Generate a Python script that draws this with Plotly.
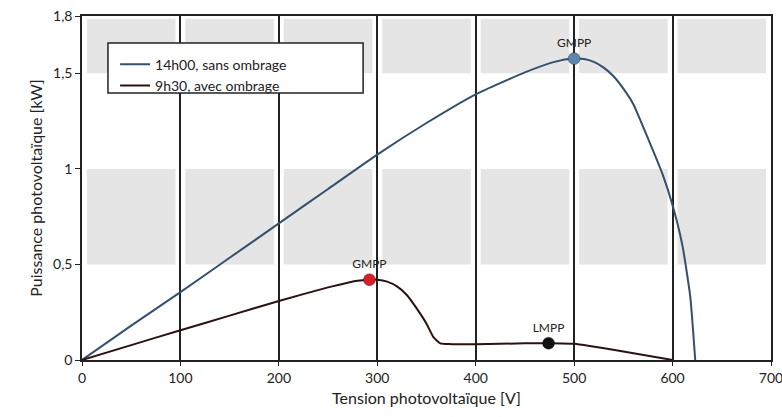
import plotly.graph_objects as go

# ---- data ----
v_sun = [0, 50, 100, 150, 200, 250, 300, 350, 400, 450, 480, 500, 510, 520, 530, 540, 550, 560, 575, 590, 600, 610, 618, 623]
p_sun = [0, 0.18, 0.355, 0.535, 0.715, 0.895, 1.075, 1.24, 1.39, 1.505, 1.56, 1.577, 1.575, 1.56, 1.53, 1.485, 1.42, 1.34, 1.16, 0.97, 0.81, 0.60, 0.33, 0.0]

v_shade = [0, 50, 100, 150, 200, 250, 280, 292, 300, 310, 320, 330, 340, 350, 357, 364, 375, 400, 450, 475, 500, 550, 600]
p_shade = [0, 0.078, 0.156, 0.232, 0.309, 0.38, 0.415, 0.42, 0.42, 0.41, 0.385, 0.34, 0.27, 0.19, 0.12, 0.087, 0.083, 0.083, 0.087, 0.088, 0.085, 0.045, 0.0]

series_names = ["14h00, sans ombrage", "9h30, avec ombrage"]

mpp_v = [500, 292, 474]
mpp_p = [1.577, 0.42, 0.088]
mpp_labels = ["GMPP", "GMPP", "LMPP"]
mpp_colors = ["#5b86b0", "#d81e2a", "#111111"]

x_ticks = [0, 100, 200, 300, 400, 500, 600, 700]
y_ticks = [0, 0.5, 1, 1.5, 1.8]
y_ticktext = ["0", "0,5", "1", "1,5", "1,8"]
shaded_bands = [(0.5, 1.0), (1.5, 1.785)]

FONT = "Lato"
fig = go.Figure()

fig.add_trace(go.Scatter(x=v_sun, y=p_sun, mode="lines", name=series_names[0],
                         line=dict(color="#34506b", width=2, shape="spline", smoothing=0.5)))
fig.add_trace(go.Scatter(x=v_shade, y=p_shade, mode="lines", name=series_names[1],
                         line=dict(color="#2a1212", width=2, shape="spline", smoothing=0.4)))
fig.add_trace(go.Scatter(x=mpp_v, y=mpp_p, mode="markers+text", text=mpp_labels,
                         textposition="top center", showlegend=False,
                         textfont=dict(family=FONT, size=12, color="#222"),
                         marker=dict(size=12, color=mpp_colors,
                                     line=dict(width=1, color="rgba(0,0,0,0.3)"))))

shapes = []
for lo, hi in shaded_bands:
    for i in range(len(x_ticks) - 1):
        shapes.append(dict(type="rect", xref="x", yref="y", layer="below",
                           x0=x_ticks[i] + 5, x1=x_ticks[i + 1] - 5, y0=lo, y1=hi,
                           fillcolor="#e5e5e5", line=dict(width=0)))
# legend frame
shapes.append(dict(type="rect", xref="paper", yref="paper", layer="above",
                   x0=0.0377, x1=0.408, y0=0.776, y1=0.9215,
                   fillcolor="white", line=dict(color="#222", width=1.5)))

fig.update_layout(
    width=782, height=417,
    margin=dict(l=82, r=11, t=16, b=57),
    paper_bgcolor="white", plot_bgcolor="white",
    font=dict(family=FONT, size=13, color="#222"),
    shapes=shapes,
    showlegend=True,
    legend=dict(x=0.048, y=0.905, xanchor="left", yanchor="top",
                bgcolor="rgba(0,0,0,0)", borderwidth=0,
                font=dict(family=FONT, size=14, color="#222"),
                itemwidth=30, tracegroupgap=0),
    xaxis=dict(range=[0, 700], tickvals=x_ticks, showgrid=True, gridcolor="#222",
               gridwidth=1.5, showline=True, linecolor="#222", linewidth=1.5, mirror=True,
               ticks="outside", ticklen=4, tickcolor="#222", zeroline=False, automargin=False,
               ticklabeloverflow="allow",
               title=dict(text="Tension photovoltaïque [V]", font=dict(family=FONT, size=16),
                          standoff=8),
               tickfont=dict(family=FONT, size=14)),
    yaxis=dict(range=[0, 1.8], tickvals=y_ticks, ticktext=y_ticktext, showgrid=False,
               showline=True, linecolor="#222", linewidth=1.5, mirror=True,
               ticks="outside", ticklen=5, tickcolor="#222", zeroline=False, automargin=False,
               ticklabeloverflow="allow",
               title=dict(text="Puissance photovoltaïque [kW]", font=dict(family=FONT, size=16),
                          standoff=6),
               tickfont=dict(family=FONT, size=14)),
)

fig.write_html("out.html")
